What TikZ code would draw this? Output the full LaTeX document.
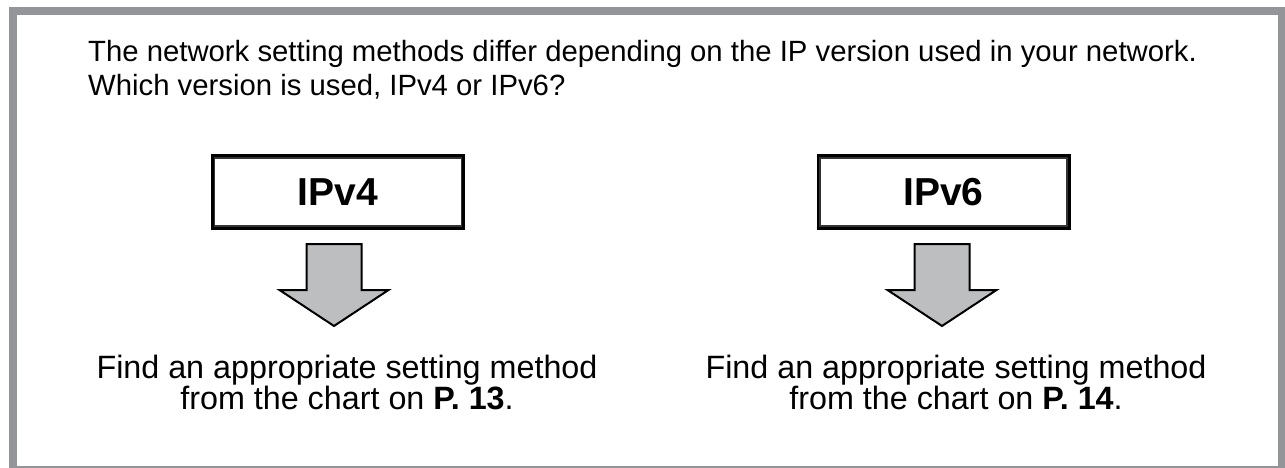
\documentclass[tikz,border=0pt]{standalone}
\usepackage{fontspec}
\setmainfont{Liberation Sans}
\usetikzlibrary{calc}
\definecolor{framegray}{HTML}{939598}
\definecolor{arrowgray}{HTML}{BCBEC0}
\tikzstyle{verbox} = [rectangle, draw=black, line width=3pt, minimum width=251pt, minimum height=72pt, inner sep=0pt, text centered, font=\fontsize{39}{44}\selectfont\bfseries]
\tikzstyle{innerline} = [draw=black!80, line width=1.2pt]
\tikzstyle{note} = [align=center, inner sep=0pt, anchor=north, font=\fontsize{32.3}{31}\selectfont]
\tikzstyle{downarrow} = [draw=black, line width=2pt, fill=arrowgray, line join=miter]

\begin{document}
\begin{tikzpicture}[x=1pt, y=-1pt]
    \useasboundingbox (0,0) rectangle (1285,468);
    %frame
    \draw [framegray, line width=8pt] (13,11) rectangle (1282,470);

    %nodes
    \node (question) [anchor=north west, align=left, inner sep=0pt, font=\fontsize{29.3}{34}\selectfont] at (88,40)
        {The network setting methods differ depending on the IP version used in your network.\\Which version is used, IPv4 or IPv6?};
    \node (v4) [verbox] at (338,192) {IPv4};
    \node (v6) [verbox] at (943.5,192) {IPv6};
    \draw [innerline] ($(v4.north west)+(3.5,3.5)$) rectangle ($(v4.south east)+(-3.5,-3.5)$);
    \draw [innerline] ($(v6.north west)+(3.5,3.5)$) rectangle ($(v6.south east)+(-3.5,-3.5)$);
    \node (p13) [note] at (347,355) {Find an appropriate setting method\\from the chart on \textbf{P. 13}.};
    \node (p14) [note] at (956,355) {Find an appropriate setting method\\from the chart on \textbf{P. 14}.};

    %arrows
    \coordinate (a4) at (334,244);
    \coordinate (a6) at (942,244);
    \foreach \a in {a4, a6}
        \draw [downarrow] ($(\a)+(-27.5,0)$) -- ++(0,46) -- ++(-27,0) -- ($(\a)+(0,82)$)
            -- ($(\a)+(54.5,46)$) -- ++(-27,0) -- ($(\a)+(27.5,0)$) -- cycle;
\end{tikzpicture}
\end{document}
